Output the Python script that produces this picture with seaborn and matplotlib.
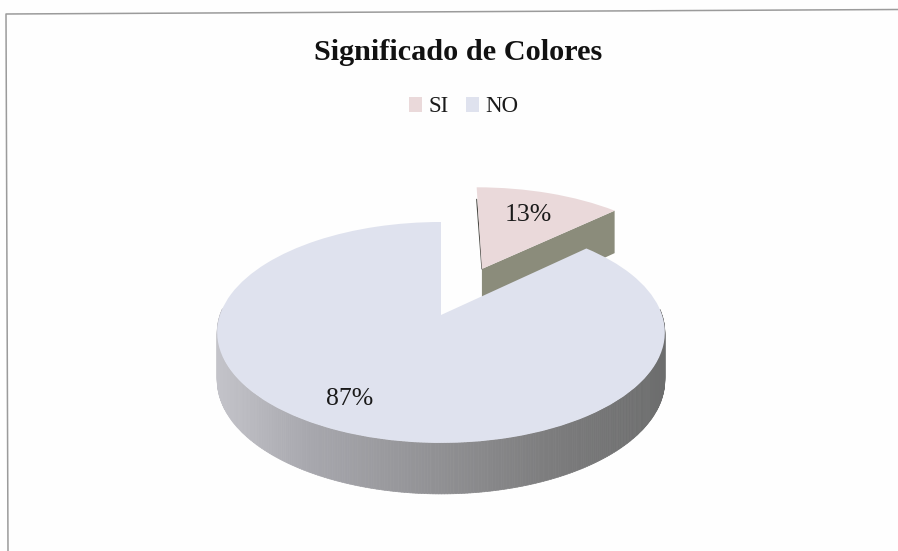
import numpy as np
import matplotlib
matplotlib.use("Agg")
import matplotlib.pyplot as plt
import seaborn as sns
from matplotlib.transforms import Transform
from matplotlib.collections import PolyCollection
from matplotlib.colors import LinearSegmentedColormap

categories = ["SI", "NO"]
values = [13, 87]
top_colors = ["#ead9da", "#dfe2ee"]
title_text = "Significado de Colores"

sns.set_theme(style="white")
plt.rcParams["font.family"] = ["Liberation Serif", "DejaVu Serif"]
palette = sns.color_palette(top_colors)

# perspective of the tilted pie
CX, CY, A, B, K = 441.0, 315.0, 107.7, 221.0, 0.158


def project(xy, depth=0.0):
    xy = np.asarray(xy, float)
    x, y = xy[..., 0], xy[..., 1]
    w = 1 + K * y
    d = depth * (47 - 4 * y)
    return np.stack([CX + B * x / w, CY - A * y / w + d], axis=-1)


class Persp(Transform):
    input_dims = output_dims = 2
    is_separable = False
    has_inverse = False

    def transform_non_affine(self, values):
        return project(values)


fig = plt.figure(figsize=(8.98, 5.51), dpi=100, facecolor="#fefefe")
ax = fig.add_axes([0, 0, 1, 1])
wedges, texts, autotexts = ax.pie(
    values, explode=[0.5, 0], startangle=90, counterclock=False,
    colors=palette, autopct="%1.0f%%", wedgeprops={"linewidth": 0},
    textprops={"fontsize": 18.5, "color": "#1a1a1a"},
)
ax.set_aspect("auto")
ax.set_xlim(0, 898)
ax.set_ylim(551, 0)
ax.axis("off")

persp = Persp()
side_cmap = LinearSegmentedColormap.from_list(
    "side", [(0, "#c4c4ca"), (0.2, "#a8a8ae"), (0.5, "#909093"), (0.75, "#7c7c7d"), (1, "#6c6d6d")]
)


def on_disc(w, theta):
    t = np.deg2rad(theta)
    return np.array([w.center[0] + w.r * np.cos(t), w.center[1] + w.r * np.sin(t)])


def radial_face(w, theta, color, z):
    c = np.array(w.center, float)
    p = on_disc(w, theta)
    ax.add_collection(PolyCollection(
        [[project(c), project(p), project(p, 1), project(c, 1)]],
        facecolors=color, edgecolors="none", zorder=z))


si, no = wedges
for w, z in ((si, 1.3), (no, 1.5)):
    w.set_transform(persp + ax.transData)
    w.set_zorder(z)
    w.set_clip_on(False)

radial_face(si, si.theta1, "#8b8c7b", 1.1)

thetas = np.linspace(no.theta1, no.theta2, 500)
quads, shades = [], []
for a, b in zip(thetas[:-1], thetas[1:]):
    pa, pb = on_disc(no, a), on_disc(no, b)
    if min(pa[1], pb[1]) > 0.05:
        continue
    q = [project(pa), project(pb), project(pb, 1), project(pa, 1)]
    quads.append(q)
    shades.append(side_cmap((q[0][0] - 215) / 450))
ax.add_collection(PolyCollection(quads, facecolors=shades, edgecolors=shades,
                                 linewidths=0.5, zorder=1.4))

# dark left edge of the pulled-out slice
p_in, p_out = project(si.center), project(on_disc(si, si.theta2))
ax.plot([p_in[0], p_out[0]], [p_in[1], p_out[1] + 12], color="#4a4a45", lw=0.8, zorder=1.2)

# labels
autotexts[0].set_position((528, 215))
autotexts[1].set_position((350, 399))
for t in autotexts:
    t.set_transform(ax.transData)
    t.set_ha("center")
    t.set_va("center")
    t.set_zorder(5)

ax.set_title(title_text, fontsize=21.8, fontweight="bold", color="#111111",
             x=458 / 898, y=1 - 60 / 551, va="baseline", pad=0)

ax.legend(wedges, categories, loc="center", bbox_to_anchor=(463.5, 107),
          bbox_transform=ax.transData, ncol=2, frameon=False, fontsize=16.5,
          handlelength=0.6, handleheight=0.6, handletextpad=0.26, columnspacing=0.74,
          labelcolor="#1a1a1a")

# scanned page frame: only its top and left edges show
ax.plot([898, 6, 8], [9.5, 14, 551], color="#9b9b9b", lw=1.1, zorder=0.5, clip_on=False)

fig.savefig("out.png", dpi=100, facecolor=fig.get_facecolor())
